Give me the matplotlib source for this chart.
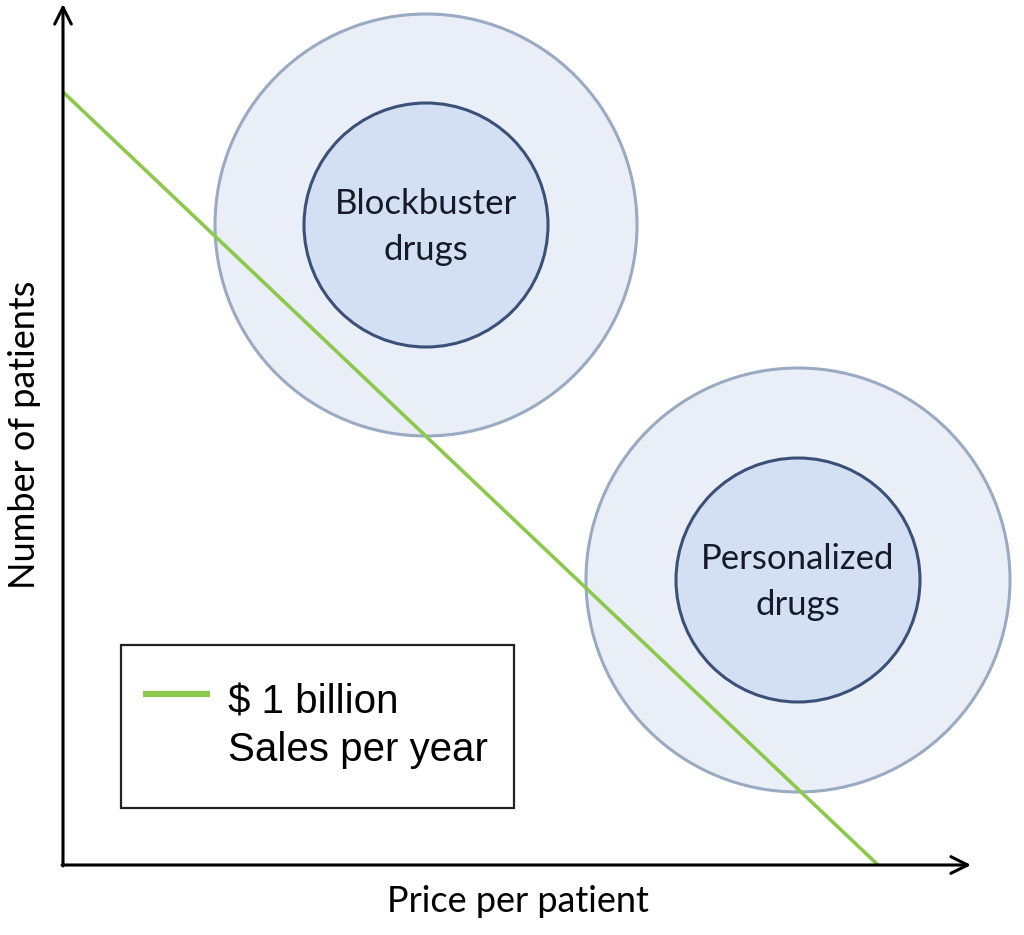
import matplotlib.pyplot as plt
from matplotlib.patches import Circle, Rectangle

# chart contents (units: distance from the axis corner)
line_x = [0, 815]
line_y = [773, 0]
line_label = ["$ 1 billion", "Sales per year"]

bubble_names = [["Blockbuster", "drugs"], ["Personalized", "drugs"]]
bubble_x = [363, 735]
bubble_y = [640, 285]
outer_r = [211, 212]
inner_r = [122, 122]

x_label = "Price per patient"
y_label = "Number of patients"

green = "#8cc84b"
outer_fill, outer_edge = "#e9eef7", "#9aaac2"
inner_fill, inner_edge = "#d3e0f3", "#3b5078"

fig = plt.figure(figsize=(10.24, 9.35), dpi=100)
ax = fig.add_axes([0, 0, 1, 1])
ax.set_xlim(-63, 961)
ax.set_ylim(-70, 865)
ax.set_aspect("equal")
ax.axis("off")

for name, cx, cy, ro, ri in zip(bubble_names, bubble_x, bubble_y, outer_r, inner_r):
    ax.add_patch(Circle((cx, cy), ro, facecolor=outer_fill, edgecolor=outer_edge, lw=2.2, zorder=1))
    ax.add_patch(Circle((cx, cy), ri, facecolor=inner_fill, edgecolor=inner_edge, lw=2.2, zorder=2))
    ax.text(cx, cy + 21, name[0], ha="center", va="center", fontsize=25, family="Lato",
            color="#151a28", zorder=3)
    ax.text(cx, cy - 25, name[1], ha="center", va="center", fontsize=25, family="Lato",
            color="#151a28", zorder=3)

ax.plot(line_x, line_y, color=green, lw=2.6, zorder=4, solid_capstyle="butt")

# axes with arrow heads
arrow = dict(arrowstyle="->", lw=2.2, color="black", mutation_scale=30, shrinkA=0, shrinkB=0)
ax.annotate("", xy=(908, 0), xytext=(-1, 0), arrowprops=arrow, zorder=5)
ax.annotate("", xy=(0, 861), xytext=(0, -1), arrowprops=arrow, zorder=5)

ax.text(455, -36, x_label, ha="center", va="center", fontsize=26, family="Lato")
ax.text(-38, 430, y_label, ha="center", va="center", fontsize=26, family="Lato", rotation=90)

# legend box
ax.add_patch(Rectangle((58, 57), 393, 163, facecolor="white", edgecolor="#222222", lw=1.6, zorder=6))
ax.plot([80, 147], [171, 171], color=green, lw=4.5, zorder=7, solid_capstyle="butt")
ax.text(165, 162, line_label[0], ha="left", va="center", fontsize=29,
        family="Liberation Sans", zorder=7)
ax.text(165, 115, line_label[1], ha="left", va="center", fontsize=29,
        family="Liberation Sans", zorder=7)

fig.savefig("out.png", dpi=100)
